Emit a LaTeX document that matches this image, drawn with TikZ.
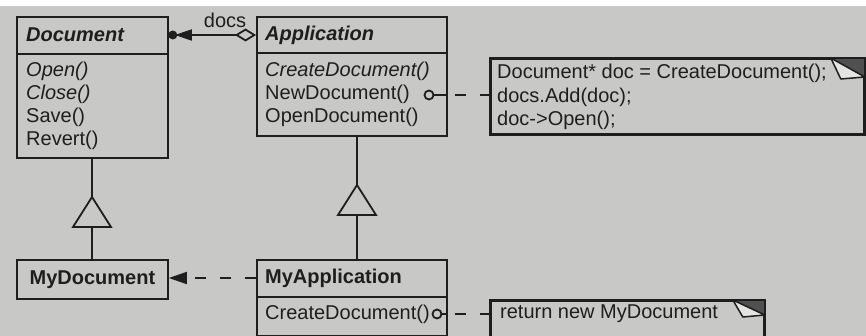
\documentclass[tikz,border=0pt]{standalone}
\usepackage{fontspec}
\setmainfont{Liberation Sans}
\usetikzlibrary{arrows.meta,calc}
\definecolor{bg}{RGB}{200,200,198}
\definecolor{ink}{RGB}{30,30,30}
\definecolor{folddark}{RGB}{80,80,80}
\definecolor{flap}{RGB}{228,228,226}
\tikzset{
  box/.style={draw=ink, line width=1.8pt, rectangle, inner sep=0pt, anchor=north west},
  txt/.style={anchor=west, inner sep=0pt, text=ink, font=\fontsize{20}{22}\selectfont},
  itxt/.style={txt, font=\fontsize{20}{22}\selectfont\itshape},
  hdr/.style={txt, font=\fontsize{20}{22}\selectfont\bfseries\itshape},
  bhdr/.style={txt, font=\fontsize{20}{22}\selectfont\bfseries},
  conn/.style={draw=ink, line width=1.8pt},
  dashconn/.style={conn, dash pattern=on 11pt off 14pt},
  gentri/.style={draw=ink, line width=1.8pt, fill=bg, line join=miter},
  knob/.style={circle, draw=ink, line width=1.8pt, fill=bg, minimum size=9pt, inner sep=0pt}
}
\begin{document}
\begin{tikzpicture}[x=1pt,y=-1pt]
\useasboundingbox (0,0) rectangle (866,336);
\clip (0,0) rectangle (866,336);
\fill[white] (0,0) rectangle (866,6);
\fill[bg] (0,6) rectangle (866,336);

% Document
\node[box, minimum width=151pt, minimum height=141pt] (doc) at (16,16) {};
\draw[conn] ($(doc.north west)+(0,38)$) -- ($(doc.north east)+(0,38)$);
\node[hdr] (docH) at (26,35) {Document};
\node[itxt] (docA) at (26,71) {Open()};
\node[itxt] (docB) at (26,94) {Close()};
\node[txt] (docC) at (26,117) {Save()};
\node[txt] (docD) at (26,140) {Revert()};

% Application
\node[box, minimum width=190pt, minimum height=119pt] (app) at (256,16) {};
\draw[conn] ($(app.north west)+(0,37)$) -- ($(app.north east)+(0,37)$);
\node[hdr] (appH) at (265,35) {Application};
\node[itxt] (appA) at (265,71) {CreateDocument()};
\node[txt] (appB) at (265,94) {NewDocument()};
\node[txt] (appC) at (265,117) {OpenDocument()};

% Note 1
\node[box, fill=bg, minimum width=373pt, minimum height=75pt] (n1) at (490,58) {};
\fill[folddark] ($(n1.north east)+(-34,0)$) -- (n1.north east) -- ($(n1.north east)+(0,19)$) -- cycle;
\filldraw[draw=ink, line width=1.5pt, fill=flap, line join=round] ($(n1.north east)+(-34,0)$) -- ($(n1.north east)+(-24,21)$) -- ($(n1.north east)+(0,19)$) -- cycle;
\draw[conn] (n1.north west) rectangle (n1.south east);
\node[txt] (n1a) at (497,73) {Document* doc = CreateDocument();};
\node[txt] (n1b) at (497,97) {docs.Add(doc);};
\node[txt] (n1c) at (497,120) {doc->Open();};

% MyDocument
\node[box, minimum width=151pt, minimum height=39pt] (mydoc) at (16,259) {};
\node[bhdr, anchor=center] (mydocH) at (mydoc.center) {MyDocument};

% MyApplication
\node[box, minimum width=190pt, minimum height=76pt] (myapp) at (256,259) {};
\draw[conn] ($(myapp.north west)+(0,38)$) -- ($(myapp.north east)+(0,38)$);
\node[bhdr] (myappH) at (265,278) {MyApplication};
\node[txt] (myappA) at (265,314) {CreateDocument()};

% Note 2
\node[box, fill=bg, minimum width=273pt, minimum height=50pt] (n2) at (490,300) {};
\fill[folddark] ($(n2.north east)+(-32,0)$) -- (n2.north east) -- ($(n2.north east)+(0,15)$) -- cycle;
\filldraw[draw=ink, line width=1.5pt, fill=flap, line join=round] ($(n2.north east)+(-32,0)$) -- ($(n2.north east)+(-22,17)$) -- ($(n2.north east)+(0,15)$) -- cycle;
\draw[conn] (n2.north west) rectangle (n2.south east);
\node[txt] (n2a) at (500,314) {return new MyDocument};

% aggregation docs
\coordinate (aggD) at ($(doc.north east)+(6,19)$);
\coordinate (aggA) at ($(app.north west)+(0,19)$);
\draw[conn, {Triangle[length=17pt,width=11pt]}-{Diamond[length=21pt,width=13pt,fill=bg]}] (aggD) -- (aggA);
\fill[ink] ($(doc.north east)+(4,19)$) circle (4.5pt);
\node[txt, anchor=center] (docslbl) at (225,20) {docs};

% inheritance Document <- MyDocument
\coordinate (t1apex) at (92,197);
\coordinate (t1base) at (92,227);
\draw[conn] (doc.south -| t1apex) -- (t1apex);
\draw[gentri] (t1apex) -- (73,227) -- (111,227) -- cycle;
\draw[conn] (t1base) -- (mydoc.north -| t1base);

% inheritance Application <- MyApplication
\coordinate (t2apex) at (357,185);
\coordinate (t2base) at (357,215);
\draw[conn] (app.south -| t2apex) -- (t2apex);
\draw[gentri] (t2apex) -- (338,215) -- (376,215) -- cycle;
\draw[conn] (t2base) -- (myapp.north -| t2base);

% dependency MyApplication -> MyDocument
\draw[dashconn, -{Triangle[length=18pt,width=12pt]}] ($(myapp.north west)+(0,19)$) -- (mydoc.east |- {$(myapp.north west)+(0,19)$});

% note links
\node[knob] (k1) at (429,95) {};
\draw[conn] (k1.east) -- (app.east |- k1);
\draw[dashconn, dash phase=-7pt] (app.east |- k1) -- (n1.west |- k1);
\node[knob] (k2) at (437,314) {};
\draw[conn] (k2.east) -- (myapp.east |- k2);
\draw[dashconn, dash phase=-7pt] (myapp.east |- k2) -- (n2.west |- k2);
\end{tikzpicture}
\end{document}
